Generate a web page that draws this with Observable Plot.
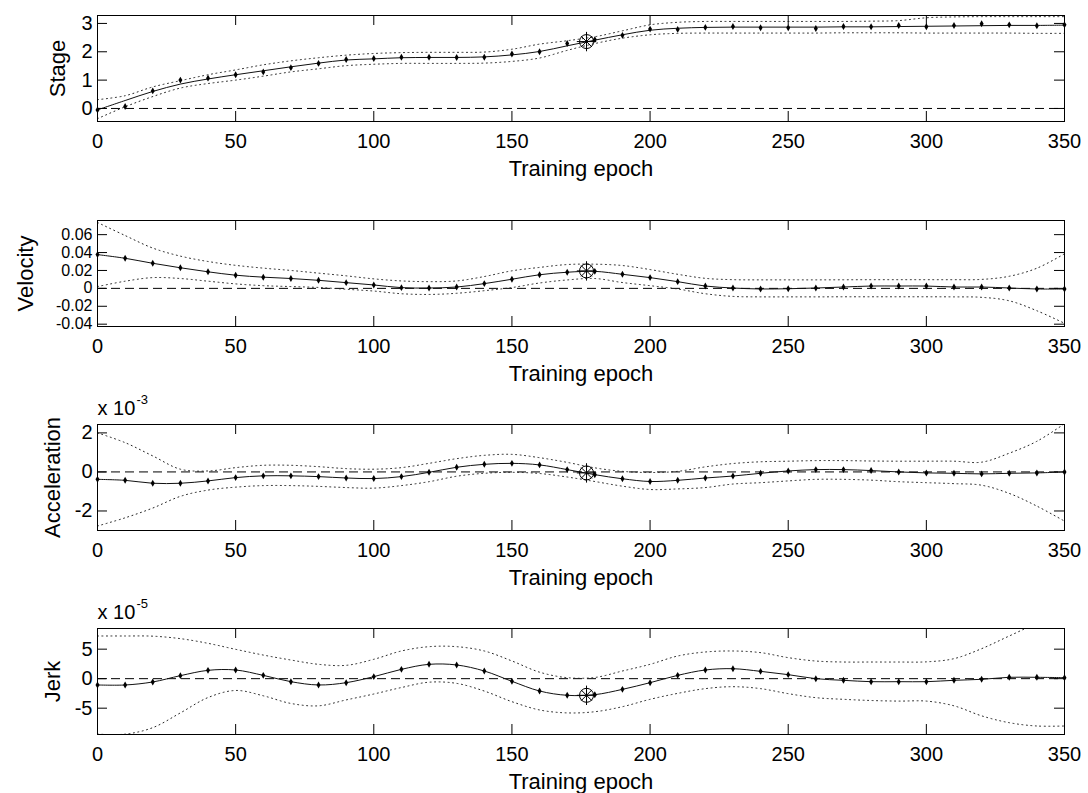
<!DOCTYPE html>
<html>
<head>
<meta charset="utf-8">
<script src="https://cdn.jsdelivr.net/npm/d3@7"></script>
<script src="https://cdn.jsdelivr.net/npm/@observablehq/plot@0.6"></script>
<style>
  html, body { margin: 0; padding: 0; background: #fff; }
  #chart { width: 1088px; height: 793px; overflow: hidden; }
  #chart svg { display: block; }
</style>
</head>
<body>
<div id="chart"></div>
<script>
// ---------------- data ----------------
const epochs = [0,10,20,30,40,50,60,70,80,90,100,110,120,130,140,150,160,170,180,190,200,210,220,230,240,250,260,270,280,290,300,310,320,330,340,350];
const xTicks = [0,50,100,150,200,250,300,350];
const xLabel = "Training epoch";
const markEpoch = 177;

// Stage
const stageMarkers = [-0.05,0.07,0.62,1.0,1.07,1.19,1.29,1.44,1.59,1.73,1.76,1.81,1.81,1.80,1.81,1.92,2.0,2.29,2.43,2.58,2.8,2.79,2.86,2.89,2.85,2.85,2.82,2.89,2.88,2.93,2.88,2.93,2.99,2.95,2.92,2.95];
const stageMean = [-0.05,0.28,0.6,0.86,1.04,1.19,1.33,1.47,1.6,1.71,1.75,1.79,1.8,1.8,1.82,1.89,2.01,2.21,2.41,2.6,2.76,2.83,2.86,2.87,2.87,2.87,2.87,2.88,2.88,2.89,2.9,2.91,2.92,2.93,2.93,2.94];
const stageUpper = [0.31,0.45,0.76,0.98,1.19,1.36,1.54,1.68,1.79,1.88,1.94,1.97,1.98,1.98,1.99,2.09,2.27,2.39,2.53,2.74,2.95,3.04,3.07,3.07,3.07,3.07,3.07,3.07,3.08,3.1,3.2,3.23,3.24,3.24,3.24,3.24];
const stageLower = [-0.36,0.06,0.42,0.72,0.88,1.0,1.14,1.29,1.4,1.51,1.56,1.59,1.59,1.59,1.6,1.66,1.78,2.05,2.29,2.48,2.6,2.65,2.66,2.66,2.66,2.66,2.66,2.67,2.67,2.67,2.66,2.66,2.66,2.66,2.65,2.65];
const stageMark = 2.36;
const stageTicks = [0,1,2,3];
const stageDomain = [-0.46, 3.28];

// Velocity
const velMean = [0.0377,0.0336,0.028,0.023,0.0185,0.0147,0.0125,0.011,0.009,0.0064,0.0038,0.0008,0.0004,0.0015,0.0053,0.0102,0.0152,0.018,0.019,0.0157,0.012,0.0075,0.0026,0.0004,-0.0007,-0.0004,0.0004,0.0015,0.0026,0.0026,0.0026,0.0015,0.0015,0.0004,-0.0007,-0.0007];
const velUpper = [0.0736,0.059,0.045,0.036,0.030,0.0257,0.0226,0.020,0.017,0.014,0.0106,0.0083,0.0075,0.0083,0.0132,0.0196,0.0234,0.0266,0.027,0.0255,0.021,0.0157,0.0112,0.0097,0.0095,0.0095,0.0095,0.0096,0.0097,0.0097,0.0097,0.0097,0.0100,0.0135,0.0225,0.0386];
const velLower = [0.002,0.008,0.012,0.011,0.008,0.005,0.003,0.002,0.001,-0.001,-0.003,-0.006,-0.0068,-0.0055,-0.0026,0.0009,0.006,0.0094,0.011,0.0065,0.003,-0.0007,-0.006,-0.009,-0.0095,-0.0095,-0.0095,-0.0094,-0.0094,-0.0094,-0.0094,-0.0095,-0.0100,-0.0139,-0.025,-0.039];
const velMark = 0.0195;
const velTicks = [-0.04,-0.02,0,0.02,0.04,0.06];
const velDomain = [-0.0426, 0.0758];

// Acceleration (axis units x 10^-3)
const accMean = [-0.38,-0.43,-0.58,-0.58,-0.46,-0.29,-0.2,-0.2,-0.24,-0.31,-0.34,-0.24,-0.02,0.24,0.39,0.44,0.36,0.12,-0.14,-0.35,-0.49,-0.43,-0.31,-0.21,-0.07,0.05,0.12,0.12,0.07,0,-0.05,-0.07,-0.1,-0.07,-0.05,0];
const accUpper = [2.0,1.5,0.82,0.14,0.05,0.22,0.34,0.34,0.27,0.17,0.14,0.22,0.44,0.68,0.85,0.9,0.73,0.49,0.21,0.03,-0.03,0.03,0.26,0.43,0.52,0.55,0.58,0.58,0.56,0.55,0.55,0.55,0.5,0.96,1.57,2.47];
const accLower = [-2.77,-2.35,-1.85,-1.25,-0.93,-0.78,-0.7,-0.7,-0.74,-0.8,-0.83,-0.7,-0.5,-0.22,-0.07,-0.02,-0.08,-0.26,-0.49,-0.73,-0.9,-0.87,-0.8,-0.62,-0.55,-0.46,-0.38,-0.38,-0.42,-0.5,-0.55,-0.6,-0.68,-1.1,-1.75,-2.52];
const accMark = -0.05;
const accTicks = [-2,0,2];
const accDomain = [-3.0, 2.43];

// Jerk (axis units x 10^-5)
const jerkMean = [-1.07,-1.07,-0.56,0.51,1.41,1.47,0.56,-0.51,-1.07,-0.68,0.34,1.58,2.43,2.32,1.3,-0.45,-2.09,-2.82,-2.71,-1.81,-0.68,0.56,1.47,1.69,1.24,0.68,0,-0.28,-0.51,-0.51,-0.51,-0.28,-0.11,0.23,0.23,0.17];
const jerkUpper = [7.23,7.23,7.2,6.78,5.99,4.97,4.0,3.16,2.43,2.26,3.28,4.69,5.42,5.42,4.69,3.0,1.1,0.17,0.2,1.3,2.43,3.84,4.52,4.69,4.41,3.56,2.99,2.82,2.82,2.82,2.85,3.39,5.08,7.23,9.3,10.5];
const jerkLower = [-9.4,-9.4,-8.3,-5.8,-3.2,-2.0,-2.9,-4.2,-4.6,-3.6,-2.6,-1.5,-0.6,-0.8,-2.1,-3.9,-5.3,-5.8,-5.6,-4.75,-3.5,-2.49,-1.69,-1.36,-1.69,-2.54,-3.22,-3.5,-3.7,-3.8,-3.8,-4.6,-6.3,-7.46,-8.02,-8.02];
const jerkMark = -2.82;
const jerkTicks = [-5,0,5];
const jerkDomain = [-9.46, 8.5];

// ---------------- drawing ----------------
const W = 1088, ML = 97, MR = 24, FH = 106;
const FW = W - ML - MR;
const FONT = "'Liberation Sans', Arial, Helvetica, sans-serif";

function panel({label, labelDx, domain, ticks, tickFont, mean, upper, lower, markers, mark, exponent, mt, h}) {
  const rows = epochs.map((e, i) => ({e, m: mean[i], u: upper[i], l: lower[i], k: markers[i]}));
  const mk = [{e: markEpoch, v: mark}];
  const marks = [
    Plot.ruleY([0], {stroke: "black", strokeWidth: 1, strokeDasharray: "9,5"}),
    Plot.line(rows, {x: "e", y: "u", stroke: "#222", strokeWidth: 1, strokeDasharray: "1,3.5", curve: "catmull-rom", clip: true}),
    Plot.line(rows, {x: "e", y: "l", stroke: "#222", strokeWidth: 1, strokeDasharray: "1,3.5", curve: "catmull-rom", clip: true}),
    Plot.line(rows, {x: "e", y: "m", stroke: "#111", strokeWidth: 1, curve: "catmull-rom"}),
    Plot.dot(rows, {x: "e", y: "k", r: 2.1, symbol: "diamond", fill: "black", stroke: "none"}),
    Plot.dot(mk, {x: "e", y: "v", r: 7, fill: "none", stroke: "black", strokeWidth: 1}),
    Plot.dot(mk, {x: "e", y: "v", r: 6.3, symbol: "plus", fill: "none", stroke: "black", strokeWidth: 1}),
    Plot.dot(mk, {x: "e", y: "v", r: 5, symbol: "times", fill: "none", stroke: "black", strokeWidth: 1}),
    // inward ticks (MATLAB style)
    Plot.tickX(xTicks, {x: d => d, insetTop: FH - 10, stroke: "black"}),
    Plot.tickX(xTicks, {x: d => d, insetBottom: FH - 10, stroke: "black"}),
    Plot.tickY(ticks, {y: d => d, insetRight: FW - 10, stroke: "black"}),
    Plot.tickY(ticks, {y: d => d, insetLeft: FW - 10, stroke: "black"}),
    Plot.frame({stroke: "black", strokeWidth: 1}),
    Plot.axisX(xTicks, {tickSize: 0, tickPadding: 12, tickFormat: d => String(d), label: null, fill: "black"}),
    Plot.axisY(ticks, {tickSize: 0, tickPadding: 5, tickFormat: d => String(d), label: null, fill: "black", fontSize: tickFont}),
    Plot.text([xLabel], {frameAnchor: "bottom", dy: 47, text: d => d, textAnchor: "middle", lineAnchor: "middle", fontSize: 22, fill: "black"}),
    Plot.text([label], {frameAnchor: "left", dx: labelDx, rotate: -90, text: d => d, textAnchor: "middle", lineAnchor: "middle", fontSize: 22, fill: "black"})
  ];
  if (exponent) {
    marks.push(Plot.text(["x 10"], {frameAnchor: "top-left", dy: -16, text: d => d, textAnchor: "start", lineAnchor: "middle", fill: "black"}));
    marks.push(Plot.text([exponent], {frameAnchor: "top-left", dx: 39, dy: -25, text: d => d, textAnchor: "start", lineAnchor: "middle", fontSize: 13, fill: "black"}));
  }
  return Plot.plot({
    width: W, height: h,
    marginLeft: ML, marginRight: MR, marginTop: mt, marginBottom: h - mt - FH,
    x: {domain: [0, 350]},
    y: {domain},
    style: {fontFamily: FONT, fontSize: "20px", color: "black", background: "white", overflow: "visible"},
    marks
  });
}

const host = document.getElementById("chart");
host.append(panel({label: "Stage", labelDx: -40, domain: stageDomain, ticks: stageTicks, tickFont: 20, mean: stageMean, upper: stageUpper, lower: stageLower, markers: stageMarkers, mark: stageMark, mt: 15, h: 204}));
host.append(panel({label: "Velocity", labelDx: -72, domain: velDomain, ticks: velTicks, tickFont: 16, mean: velMean, upper: velUpper, lower: velLower, markers: velMean, mark: velMark, mt: 16, h: 204}));
host.append(panel({label: "Acceleration", labelDx: -45, domain: accDomain, ticks: accTicks, tickFont: 20, mean: accMean, upper: accUpper, lower: accLower, markers: accMean, mark: accMark, exponent: "-3", mt: 16, h: 204}));
host.append(panel({label: "Jerk", labelDx: -45, domain: jerkDomain, ticks: jerkTicks, tickFont: 20, mean: jerkMean, upper: jerkUpper, lower: jerkLower, markers: jerkMean, mark: jerkMark, exponent: "-5", mt: 16, h: 181}));
</script>
</body>
</html>
